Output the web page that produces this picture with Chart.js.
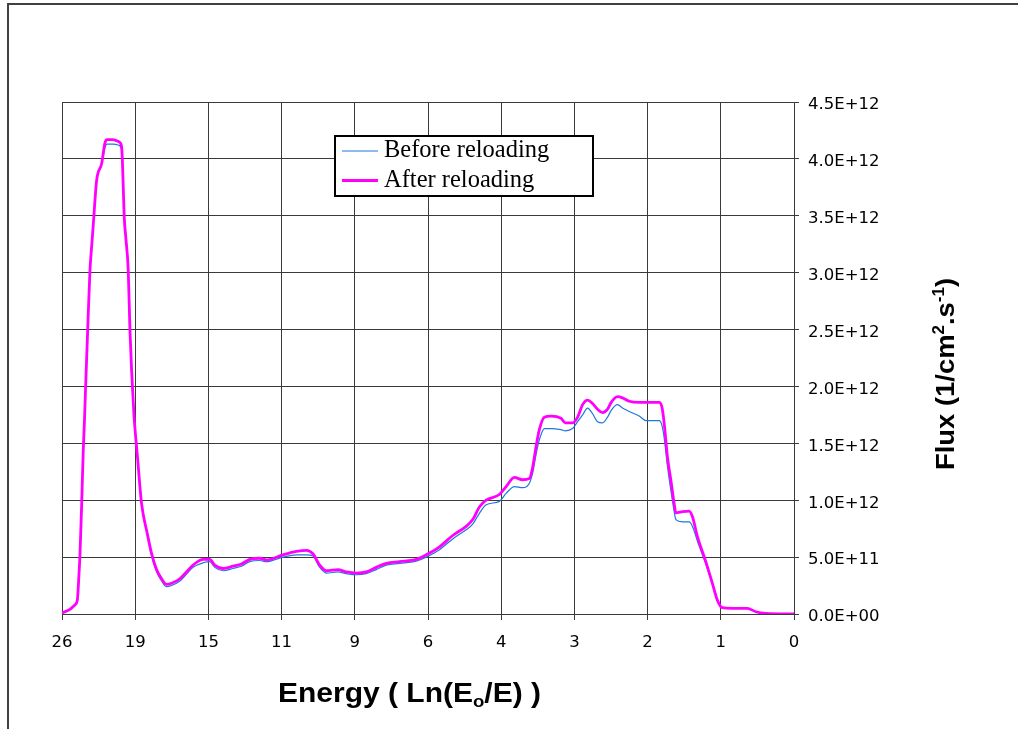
<!DOCTYPE html>
<html>
<head>
<meta charset="utf-8">
<script src="https://cdn.jsdelivr.net/npm/chart.js@4.4.0/dist/chart.umd.min.js"></script>
<style>
  html, body { margin: 0; padding: 0; background: #fff; }
  canvas { display: block; }
</style>
</head>
<body>
<canvas id="flux" width="1018" height="729"></canvas>
<script>
// ── Données ───────────────────────────────────────────────────────────────────
// axe X : catégories (groupes d'énergie), une étiquette par graduation
const X_LABELS = ['26', '19', '15', '11', '9', '6', '4', '3', '2', '1', '0'];

// position le long de l'axe des catégories (0 = "26", 10 = "0")
const POS = [
  0, 0.109, 0.177, 0.209, 0.232, 0.246, 0.269, 0.291, 0.307, 0.323,
  0.351, 0.382, 0.405, 0.427, 0.473, 0.542, 0.587, 0.614, 0.696, 0.778,
  0.814, 0.828, 0.850, 0.873, 0.905, 0.928, 0.951, 0.982, 1.010, 1.027,
  1.087, 1.164, 1.224, 1.292, 1.360, 1.428, 1.497, 1.610, 1.701, 1.791,
  1.928, 2.019, 2.087, 2.201, 2.337, 2.452, 2.565, 2.701, 2.793, 3.019,
  3.202, 3.338, 3.428, 3.520, 3.611, 3.769, 3.884, 4.020, 4.157, 4.293,
  4.430, 4.611, 4.839, 4.975, 5.157, 5.338, 5.521, 5.611, 5.702, 5.794,
  5.975, 6.067, 6.180, 6.293, 6.385, 6.430, 6.476, 6.521, 6.589, 6.681,
  6.817, 6.876, 6.975, 7.044, 7.112, 7.180, 7.248, 7.316, 7.385, 7.453,
  7.503, 7.589, 7.657, 7.749, 7.885, 7.977, 8.158, 8.195, 8.226, 8.271,
  8.317, 8.363, 8.386, 8.476, 8.568, 8.613, 8.681, 8.795, 8.885, 8.954,
  9.022, 9.158, 9.363, 9.478, 9.614, 10
];

// flux en unités de 1E+12 (1/cm².s)
const FLUX_BEFORE = [
  0.01, 0.04, 0.08, 0.12, 0.35, 0.53, 0.97, 1.45, 1.70, 2.00,
  2.50, 3.02, 3.23, 3.42, 3.81, 3.96, 4.10, 4.13, 4.13, 4.12,
  4.08, 3.92, 3.49, 3.30, 3.02, 2.50, 2.14, 1.76, 1.53, 1.41,
  0.97, 0.70, 0.51, 0.37, 0.29, 0.24, 0.25, 0.29, 0.35, 0.41,
  0.45, 0.46, 0.41, 0.38, 0.40, 0.42, 0.46, 0.47, 0.46, 0.50,
  0.52, 0.52, 0.51, 0.41, 0.36, 0.37, 0.355, 0.345, 0.355, 0.39,
  0.43, 0.445, 0.465, 0.50, 0.565, 0.66, 0.74, 0.79, 0.885, 0.96,
  0.99, 1.06, 1.12, 1.11, 1.15, 1.24, 1.40, 1.53, 1.63, 1.63,
  1.62, 1.61, 1.63, 1.69, 1.75, 1.81, 1.76, 1.69, 1.68, 1.73,
  1.79, 1.84, 1.81, 1.78, 1.74, 1.70, 1.70, 1.66, 1.55, 1.30,
  1.09, 0.90, 0.83, 0.81, 0.81, 0.77, 0.64, 0.44, 0.26, 0.12,
  0.055, 0.05, 0.05, 0.02, 0.005, 0
];

const FLUX_AFTER = [
  0.01, 0.04, 0.08, 0.12, 0.35, 0.53, 0.97, 1.45, 1.70, 2.00,
  2.50, 3.02, 3.23, 3.42, 3.81, 3.96, 4.14, 4.17, 4.17, 4.15,
  4.11, 3.93, 3.49, 3.30, 3.02, 2.50, 2.14, 1.76, 1.53, 1.41,
  0.97, 0.71, 0.53, 0.39, 0.31, 0.26, 0.27, 0.31, 0.37, 0.43,
  0.48, 0.48, 0.43, 0.40, 0.42, 0.44, 0.48, 0.49, 0.475, 0.52,
  0.55, 0.56, 0.53, 0.43, 0.38, 0.39, 0.37, 0.36, 0.37, 0.41,
  0.445, 0.46, 0.48, 0.52, 0.59, 0.69, 0.77, 0.83, 0.94, 1.00,
  1.05, 1.12, 1.20, 1.18, 1.19, 1.29, 1.47, 1.62, 1.73, 1.74,
  1.72, 1.68, 1.68, 1.73, 1.84, 1.88, 1.85, 1.80, 1.77, 1.80,
  1.86, 1.91, 1.90, 1.87, 1.86, 1.86, 1.86, 1.82, 1.68, 1.38,
  1.18, 0.97, 0.89, 0.90, 0.905, 0.855, 0.68, 0.46, 0.27, 0.12,
  0.055, 0.05, 0.05, 0.02, 0.005, 0
];

const UNIT = 1e12;
const Y_MAX = 4.5;
const Y_STEP = 0.5;

// ── Styles ────────────────────────────────────────────────────────────────────
const BLUE = '#1f78dc';
const MAGENTA = '#ff00ff';
const GRID = '#3a3a3a';
const SANS = '"Liberation Sans", Arial, sans-serif';
const TICK_FONT = { family: '"DejaVu Sans", sans-serif', size: 16.5 };

function toPoints(vals) {
  return POS.map((p, i) => ({ x: p, y: vals[i] * UNIT }));
}

function fmtSci(v) {
  const r = Math.round(v / 1e10) * 1e10;
  if (r === 0) return '0.0E+00';
  const e = Math.floor(Math.log10(r) + 1e-9);
  const m = r / Math.pow(10, e);
  return m.toFixed(1) + 'E+' + String(e).padStart(2, '0');
}

// texte avec indices / exposants
function richWidth(ctx, parts, size) {
  let w = 0;
  for (const p of parts) {
    ctx.font = 'bold ' + (p.mode ? size * 0.62 : size) + 'px ' + SANS;
    w += ctx.measureText(p.t).width;
  }
  return w;
}
function drawRich(ctx, parts, size) {
  let x = 0;
  for (const p of parts) {
    ctx.font = 'bold ' + (p.mode ? size * 0.62 : size) + 'px ' + SANS;
    const dy = p.mode === 'sub' ? size * 0.2 : p.mode === 'sup' ? -size * 0.4 : 0;
    ctx.fillText(p.t, x, dy);
    x += ctx.measureText(p.t).width;
  }
}

const X_TITLE = [{ t: 'Energy ( Ln(E' }, { t: 'o', mode: 'sub' }, { t: '/E) )' }];
const Y_TITLE = [{ t: 'Flux (1/cm' }, { t: '2', mode: 'sup' }, { t: '.s' }, { t: '-1', mode: 'sup' }, { t: ')' }];

const decor = {
  id: 'decor',
  beforeDraw(chart) {
    const ctx = chart.ctx;
    ctx.save();
    ctx.fillStyle = '#fff';
    ctx.fillRect(0, 0, chart.width, chart.height);
    ctx.restore();
  },
  afterDraw(chart) {
    const ctx = chart.ctx;
    ctx.save();

    // cadre extérieur
    ctx.strokeStyle = '#404040';
    ctx.lineWidth = 2;
    ctx.strokeRect(8, 4, chart.width + 50, chart.height + 50);

    // titre axe X
    ctx.fillStyle = '#000';
    ctx.textBaseline = 'alphabetic';
    ctx.textAlign = 'left';
    let size = 27;
    let w = richWidth(ctx, X_TITLE, size);
    let sx = 263 / w;
    ctx.save();
    ctx.translate(278, 702);
    ctx.scale(sx, 1);
    drawRich(ctx, X_TITLE, size);
    ctx.restore();

    // titre axe Y (vertical)
    size = 26;
    w = richWidth(ctx, Y_TITLE, size);
    sx = 192 / w;
    ctx.save();
    ctx.translate(954, 470);
    ctx.rotate(-Math.PI / 2);
    ctx.scale(sx, 1);
    drawRich(ctx, Y_TITLE, size);
    ctx.restore();

    // légende
    const lx = 335, ly = 136, lw = 258, lh = 60;
    ctx.fillStyle = '#fff';
    ctx.fillRect(lx, ly, lw, lh);
    ctx.strokeStyle = '#000';
    ctx.lineWidth = 2;
    ctx.strokeRect(lx, ly, lw, lh);
    ctx.font = '24.5px "Liberation Serif", "Times New Roman", serif';
    const items = [chart.data.datasets[1], chart.data.datasets[0]];
    items.forEach((ds, i) => {
      const cy = ly + 15 + i * 29.5;
      ctx.strokeStyle = ds.borderColor;
      ctx.lineWidth = ds.borderWidth;
      ctx.beginPath();
      ctx.moveTo(lx + 7, cy);
      ctx.lineTo(lx + 43, cy);
      ctx.stroke();
      ctx.fillStyle = '#000';
      ctx.fillText(ds.label, lx + 49, cy + 6);
    });
    ctx.restore();
  }
};

new Chart(document.getElementById('flux'), {
  type: 'line',
  data: {
    datasets: [
      {
        label: 'After reloading',
        data: toPoints(FLUX_AFTER),
        borderColor: MAGENTA,
        borderWidth: 2.8,
        pointRadius: 0,
        fill: false,
        cubicInterpolationMode: 'monotone',
        order: 1,
      },
      {
        label: 'Before reloading',
        data: toPoints(FLUX_BEFORE),
        borderColor: BLUE,
        borderWidth: 1.2,
        pointRadius: 0,
        fill: false,
        cubicInterpolationMode: 'monotone',
        order: 2,
      },
    ],
  },
  options: {
    responsive: false,
    animation: false,
    devicePixelRatio: 1,
    layout: { padding: { left: 62, top: 102, right: 0, bottom: 0 } },
    plugins: {
      legend: { display: false },
      tooltip: { enabled: false },
    },
    scales: {
      x: {
        type: 'linear',
        position: 'bottom',
        min: 0,
        max: X_LABELS.length - 1,
        afterBuildTicks(scale) {
          scale.ticks = X_LABELS.map((_, i) => ({ value: i }));
        },
        afterFit(scale) { scale.height = 115; },
        ticks: {
          autoSkip: false,
          maxRotation: 0,
          padding: 13,
          color: '#000',
          font: TICK_FONT,
          callback: (v) => X_LABELS[Math.round(v)],
        },
        grid: { color: GRID, lineWidth: 1, tickLength: 6, tickColor: GRID },
        border: { color: GRID, width: 1 },
      },
      y: {
        position: 'right',
        min: 0,
        max: Y_MAX * UNIT,
        afterBuildTicks(scale) {
          const t = [];
          for (let v = 0; v <= Y_MAX + 1e-9; v += Y_STEP) t.push({ value: v * UNIT });
          scale.ticks = t;
        },
        afterFit(scale) { scale.width = 224; },
        ticks: {
          padding: 9,
          labelOffset: 3,
          color: '#000',
          font: TICK_FONT,
          callback: (v) => fmtSci(v),
        },
        grid: { color: GRID, lineWidth: 1, tickLength: 5, tickColor: GRID },
        border: { color: GRID, width: 1 },
      },
    },
  },
  plugins: [decor],
});
</script>
</body>
</html>
